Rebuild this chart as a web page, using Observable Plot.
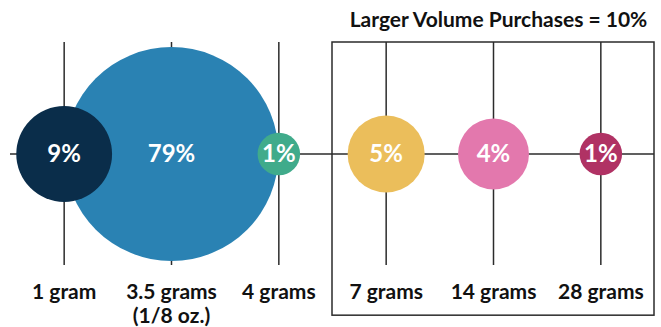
<!DOCTYPE html>
<html>
<head>
<meta charset="utf-8">
<script src="https://cdn.jsdelivr.net/npm/d3@7"></script>
<script src="https://cdn.jsdelivr.net/npm/@observablehq/plot@0.6"></script>
<style>
  html, body { margin: 0; padding: 0; background: #fff; }
  #chart svg { display: block; }
</style>
</head>
<body>
<div id="chart"></div>
<script>
// Package sizes along the axis
const sizes = ["1 gram", "3.5 grams\n(1/8 oz.)", "4 grams", "7 grams", "14 grams", "28 grams"];
// Share of purchases for each package size (%)
const shares = [9, 79, 1, 5, 4, 1];
// Bubble colour per package size
const colors = ["#0a2d4a", "#2a82b3", "#40ab8b", "#ebbe5b", "#e378ad", "#b03264"];
// Sizes grouped as larger-volume purchases, and the group heading
const largerSizes = ["7 grams", "14 grams", "28 grams"];
const groupTitle = "Larger Volume Purchases = 10%";

const rows = sizes.map((size, i) => ({size, i, share: shares[i]}));
const groupIdx = largerSizes.map(s => sizes.indexOf(s));
const group = [{x1: d3.min(groupIdx) - 0.5, x2: d3.max(groupIdx) + 0.5, mid: d3.mean(groupIdx)}];

const font = "Lato, 'Open Sans', sans-serif";
const ink = "#2b2b2b";

const chart = Plot.plot({
  width: 661,
  height: 327,
  margin: 0,
  style: {fontFamily: font, background: "#fff", overflow: "visible"},
  x: {type: "linear", domain: [-0.5, sizes.length - 0.5], range: [10, 654], axis: null},
  y: {type: "linear", domain: [-1, 1], range: [265, 42], axis: null},
  r: {type: "pow", exponent: 0.37, domain: [0, d3.max(shares)], range: [0, 107]},
  color: {domain: sizes, range: colors},
  marks: [
    // baseline through the bubble centres
    Plot.ruleY([0], {x1: -0.5, x2: sizes.length - 0.5, stroke: ink, strokeWidth: 1.5}),
    // one vertical guide per package size
    Plot.ruleX(rows, {x: "i", y1: -1, y2: 1, stroke: ink, strokeWidth: 1.5}),
    // frame around the larger-volume sizes
    Plot.rect(group, {x1: "x1", x2: "x2", y1: -1.45, y2: 1, fill: "none", stroke: ink, strokeWidth: 1.5}),
    Plot.text(group, {
      x: "mid", y: 1.277, dx: 5, text: () => groupTitle, lineAnchor: "top",
      fontSize: 21, fontWeight: 700, fill: "#111"
    }),
    // bubbles sized by share
    Plot.dot(rows, {x: "i", y: 0, r: "share", fill: "size", stroke: null}),
    Plot.text(rows, {
      x: "i", y: 0, text: d => `${d.share}%`, fill: "#fff",
      fontSize: 24, fontWeight: 700
    }),
    // package size labels
    Plot.text(rows, {
      x: "i", y: -1.148, text: "size", lineAnchor: "top", lineHeight: 1.15,
      fontSize: 21, fontWeight: 700, fill: "#111"
    })
  ]
});

document.getElementById("chart").append(chart);
</script>
</body>
</html>
